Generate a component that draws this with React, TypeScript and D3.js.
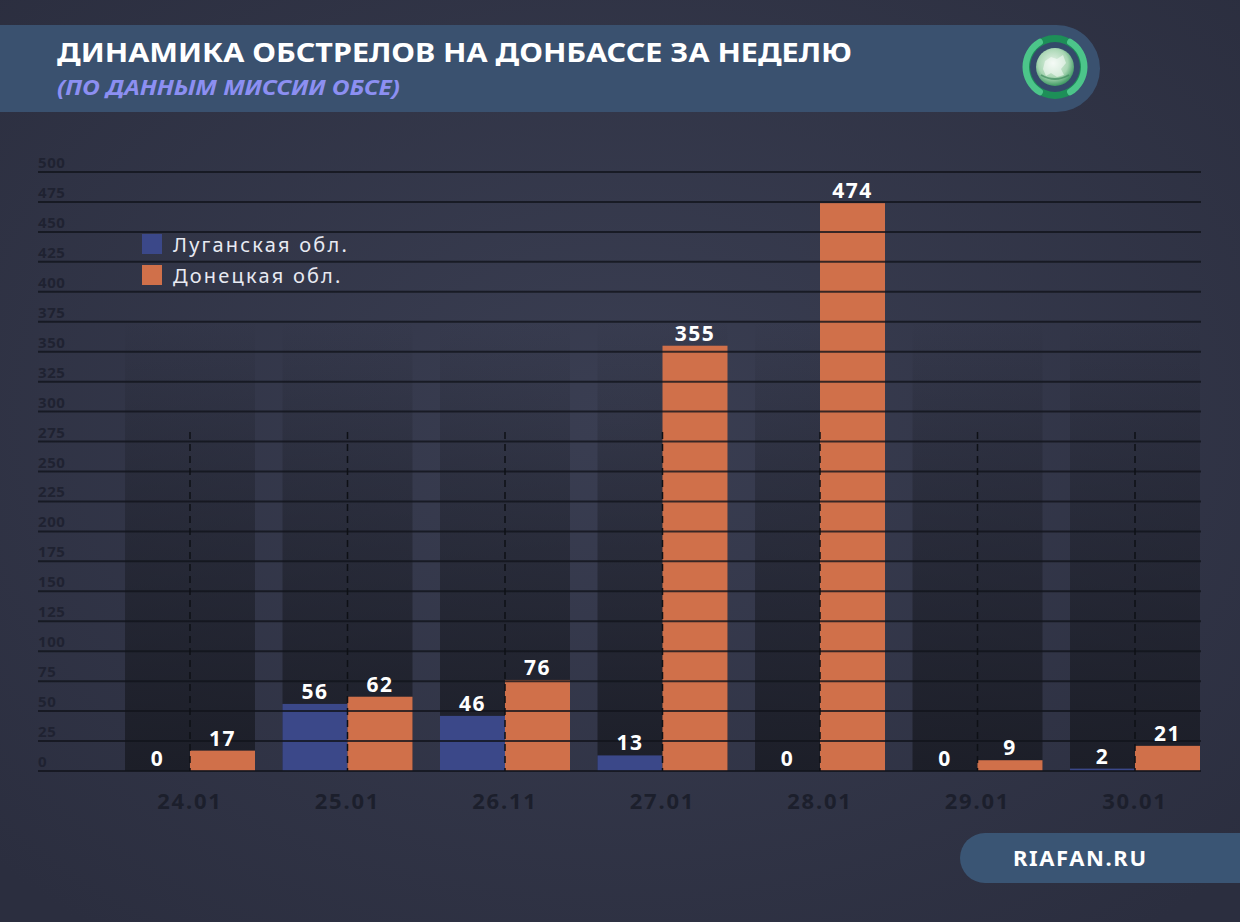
import React from 'react'
import * as d3 from 'd3'

const dates = ['24.01', '25.01', '26.11', '27.01', '28.01', '29.01', '30.01']
const lugansk = [0, 56, 46, 13, 0, 0, 2]
const donetsk = [17, 62, 76, 355, 474, 9, 21]
const seriesNames = ['Луганская обл.', 'Донецкая обл.']
const yTicks = d3.range(0, 501, 25)

const W = 1240
const H = 922
const BLUE = '#3b4889'
const ORANGE = '#d0704a'
const FONT = "'Noto Sans', 'Open Sans', sans-serif"

const App = () => {
    const y = d3.scaleLinear().domain([0, 500]).range([771, 172])
    const x = d3.scalePoint<string>().domain(dates).range([190, 1135])
    const inner = d3.scaleBand<string>().domain(['lug', 'don']).range([-65, 65]).padding(0)
    const bw = inner.bandwidth()

    const rows = dates.map((d, i) => ({ date: d, lug: lugansk[i], don: donetsk[i] }))

    // side arcs of the logo ring (angle 0 = 12 o'clock)
    const sideArc = d3.arc<any>().innerRadius(26).outerRadius(32.5).cornerRadius(3)

    return (
        <svg
            width={W}
            height={H}
            style={{ position: 'absolute', left: 0, top: 0, fontFamily: FONT }}
        >
            <defs>
                <radialGradient id='bg' cx='50%' cy='45%' r='70%'>
                    <stop offset='0%' stopColor='#3a3e52' />
                    <stop offset='100%' stopColor='#2b2e3f' />
                </radialGradient>
                <linearGradient id='col' x1='0' y1='0' x2='0' y2='1'>
                    <stop offset='0%' stopColor='#1a1c25' stopOpacity='0' />
                    <stop offset='35%' stopColor='#1a1c25' stopOpacity='0.35' />
                    <stop offset='100%' stopColor='#1a1c25' stopOpacity='0.9' />
                </linearGradient>
                <radialGradient id='globe' cx='45%' cy='40%' r='60%'>
                    <stop offset='0%' stopColor='#eaf5ec' />
                    <stop offset='65%' stopColor='#a8d6b3' />
                    <stop offset='100%' stopColor='#3f9a63' />
                </radialGradient>
            </defs>

            <rect width={W} height={H} fill='url(#bg)' />

            {/* header banner */}
            <path d='M0,25 H1056.5 A43.5,43.5 0 0 1 1056.5,112 H0 Z' fill='#3a516f' />
            <text x={57} y={62} fill='#ffffff' fontSize={27} fontWeight={700} textLength={795} lengthAdjust='spacingAndGlyphs'>
                ДИНАМИКА ОБСТРЕЛОВ НА ДОНБАССЕ ЗА НЕДЕЛЮ
            </text>
            <text x={57} y={95} fill='#8c8ff2' fontSize={21} fontWeight={700} fontStyle='italic' textLength={343} lengthAdjust='spacingAndGlyphs'>
                (ПО ДАННЫМ МИССИИ ОБСЕ)
            </text>

            {/* logo */}
            <g transform='translate(1055, 67)'>
                <circle r={32} fill='#1d8f58' />
                <path d={sideArc({ startAngle: Math.PI * 0.14, endAngle: Math.PI * 0.86 }) || ''} fill='#4cc58a' />
                <path d={sideArc({ startAngle: Math.PI * 1.14, endAngle: Math.PI * 1.86 }) || ''} fill='#4cc58a' />
                <circle r={25} fill='#344a6a' />
                <circle r={19} fill='url(#globe)' />
                <path d='M-10,-6 L-4,-10 L2,-8 L8,-12 L11,-4 L6,2 L9,8 L2,10 L-4,6 L-9,9 L-12,2 Z' fill='#ffffff' opacity={0.5} />
                <path d='M-14,8 Q0,16 14,8' stroke='#3f8a5e' strokeWidth={2} fill='none' opacity={0.7} />
            </g>

            {/* column backgrounds */}
            {rows.map(r => (
                <rect
                    key={'c' + r.date}
                    x={x(r.date)! - 65}
                    y={320}
                    width={130}
                    height={y(0) - 320}
                    fill='url(#col)'
                />
            ))}

            {/* bars */}
            {rows.map(r => (
                <g key={'b' + r.date} transform={`translate(${x(r.date)}, 0)`}>
                    <rect x={inner('lug')} y={y(r.lug)} width={bw} height={y(0) - y(r.lug)} fill={BLUE} />
                    <rect x={inner('don')} y={y(r.don)} width={bw} height={y(0) - y(r.don)} fill={ORANGE} />
                </g>
            ))}

            {/* grid + y tick labels */}
            {yTicks.map(t => (
                <g key={'t' + t}>
                    <line x1={38} x2={1201} y1={y(t)} y2={y(t)} stroke='#12141b' strokeOpacity={0.8} strokeWidth={2} />
                    <text x={38} y={y(t) - 4} fill='#1f2231' fontSize={15} fontWeight={700} letterSpacing={0.6}>
                        {t}
                    </text>
                </g>
            ))}

            {/* dashed center lines */}
            {rows.map(r => (
                <line
                    key={'d' + r.date}
                    x1={x(r.date)}
                    x2={x(r.date)}
                    y1={432}
                    y2={y(0)}
                    stroke='#0e1016'
                    strokeWidth={1.5}
                    strokeDasharray='7,5'
                />
            ))}

            {/* value labels */}
            {rows.map(r => (
                <g key={'v' + r.date} transform={`translate(${x(r.date)}, 0)`}>
                    {[['lug', r.lug], ['don', r.don]].map(([k, v]) => (
                        <text
                            key={k as string}
                            x={inner(k as string)! + bw / 2}
                            y={Math.min(y(v as number), y(0)) - 5}
                            textAnchor='middle'
                            fill='#ffffff'
                            fontSize={21}
                            fontWeight={700}
                            letterSpacing={1.5}
                        >
                            {v}
                        </text>
                    ))}
                </g>
            ))}

            {/* x labels */}
            {rows.map(r => (
                <text
                    key={'x' + r.date}
                    x={x(r.date)}
                    y={809}
                    textAnchor='middle'
                    fill='#1c1f2c'
                    fontSize={22}
                    fontWeight={700}
                    letterSpacing={1.8}
                >
                    {r.date}
                </text>
            ))}

            {/* legend */}
            {seriesNames.map((s, i) => (
                <g key={s} transform={`translate(142, ${234 + i * 31})`}>
                    <rect width={20} height={20} fill={i === 0 ? BLUE : ORANGE} />
                    <text x={31} y={18} fill='#e8eaf2' fontSize={20} letterSpacing={2.2}>
                        {s}
                    </text>
                </g>
            ))}

            {/* footer */}
            <path d='M1240,833 H985 A25,25 0 0 0 985,883 H1240 Z' fill='#3a5574' />
            <text x={1013} y={866} fill='#ffffff' fontSize={22} fontWeight={700} letterSpacing={1.6}>
                RIAFAN.RU
            </text>
        </svg>
    )
}

export default App
